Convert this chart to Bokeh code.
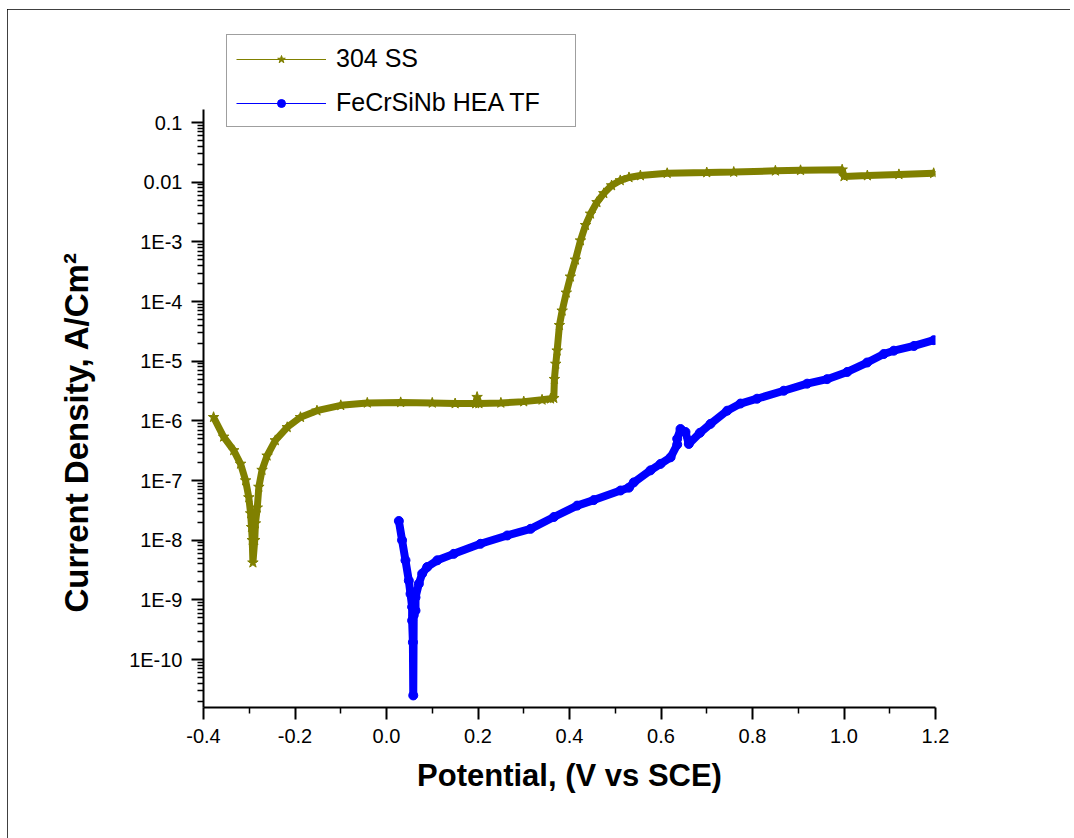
from bokeh.plotting import figure
from bokeh.models import (Range1d, FixedTicker, CustomJSTickFormatter, Legend,
                          LegendItem, Title)
from bokeh.embed import file_html
from bokeh.resources import INLINE

# ---- data ----
ss_potential = [-0.378, -0.356, -0.334, -0.319, -0.308, -0.301, -0.297, -0.295,
                -0.2935, -0.292, -0.288, -0.2865, -0.2825, -0.279, -0.272, -0.261,
                -0.243, -0.217, -0.188, -0.152, -0.100, -0.042, 0.031, 0.100,
                0.150, 0.195, 0.198, 0.202, 0.250, 0.300, 0.340, 0.3585, 0.3657,
                0.367, 0.370, 0.373, 0.378, 0.384, 0.393, 0.402, 0.413, 0.424,
                0.435, 0.446, 0.460, 0.475, 0.492, 0.511, 0.530, 0.555, 0.6135,
                0.700, 0.759, 0.850, 0.905, 0.996, 1.000, 1.051, 1.120, 1.196]
ss_current = [1.15e-6, 5.4e-7, 3.2e-7, 1.9e-7, 1.0e-7, 5.2e-8, 2.8e-8, 1.65e-8,
              1.0e-8, 4.2e-9, 1.0e-8, 1.9e-8, 3.5e-8, 7.8e-8, 1.5e-7, 2.6e-7,
              4.7e-7, 7.8e-7, 1.15e-6, 1.48e-6, 1.82e-6, 2.0e-6, 2.04e-6, 2.0e-6,
              1.95e-6, 1.95e-6, 2.5e-6, 1.95e-6, 2.0e-6, 2.1e-6, 2.25e-6, 2.35e-6, 2.4e-6,
              5.0e-6, 9.0e-6, 1.5e-5, 4.0e-5, 7.0e-5, 1.4e-4, 2.6e-4, 5.0e-4, 1.05e-3,
              1.9e-3, 2.95e-3, 4.6e-3, 6.5e-3, 8.8e-3, 1.07e-2, 1.2e-2, 1.29e-2, 1.41e-2,
              1.45e-2, 1.48e-2, 1.55e-2, 1.58e-2, 1.62e-2, 1.25e-2, 1.29e-2, 1.35e-2, 1.41e-2]

hea_potential = [0.027, 0.034, 0.0415, 0.0488, 0.0525, 0.056, 0.056, 0.0577, 0.0585,
                 0.0595, 0.0634, 0.0634, 0.0707, 0.078, 0.089, 0.111, 0.147, 0.2055,
                 0.264, 0.315, 0.366, 0.4168, 0.453, 0.5115, 0.530, 0.5405, 0.577,
                 0.599, 0.621, 0.6354, 0.6354, 0.6426, 0.6535, 0.6608, 0.685, 0.7082,
                 0.7447, 0.7738, 0.810, 0.8684, 0.9195, 0.963, 1.007, 1.0507, 1.087,
                 1.1089, 1.153, 1.1963]
hea_current = [2.1e-8, 1.0e-8, 4.6e-9, 2.1e-9, 1.26e-9, 7.6e-10, 4.5e-10, 1.95e-10, 2.5e-11,
               5.5e-10, 6.6e-10, 1.1e-9, 1.86e-9, 2.75e-9, 3.55e-9, 4.6e-9, 5.9e-9, 8.7e-9,
               1.2e-8, 1.55e-8, 2.45e-8, 3.8e-8, 4.7e-8, 6.8e-8, 7.6e-8, 9.3e-8, 1.48e-7,
               1.9e-7, 2.45e-7, 4.0e-7, 5.0e-7, 7.3e-7, 6.5e-7, 4.1e-7, 6.3e-7, 8.9e-7,
               1.48e-6, 1.95e-6, 2.35e-6, 3.2e-6, 4.2e-6, 5.0e-6, 6.6e-6, 9.5e-6, 1.32e-5,
               1.5e-5, 1.8e-5, 2.25e-5]

x_major_ticks = [-0.4, -0.2, 0.0, 0.2, 0.4, 0.6, 0.8, 1.0, 1.2]
x_minor_ticks = [-0.3, -0.1, 0.1, 0.3, 0.5, 0.7, 0.9, 1.1]
y_major_ticks = [1e-10, 1e-9, 1e-8, 1e-7, 1e-6, 1e-5, 1e-4, 1e-3, 1e-2, 1e-1]

Y_AXIS_MIN = 10 ** -10.804
Y_AXIS_MAX = 10 ** -0.782      # where the drawn y axis ends
Y_VIEW_MAX = 10 ** 0.542       # room above the axis for the legend box
y_minor_ticks = [k * 10.0 ** d for d in range(-11, 0) for k in range(2, 10)
                 if Y_AXIS_MIN <= k * 10.0 ** d <= Y_AXIS_MAX]

OLIVE = "#808000"
BLUE = "#0000FF"
FONT = "Liberation Sans"

p = figure(width=1063, height=829,
           x_range=Range1d(-0.4, 1.2),
           y_range=Range1d(Y_AXIS_MIN, Y_VIEW_MAX),
           y_axis_type="log",
           output_backend="svg", toolbar_location=None,
           min_border_left=196, min_border_right=135,
           min_border_top=21, min_border_bottom=131,
           margin=(9, 0, 0, 7))
p.styles = {"outline": "2px solid black", "outline-offset": "-2px"}
p.outline_line_color = None
p.grid.visible = False
p.background_fill_color = "white"
p.border_fill_color = "white"

# series
ss_band = p.line(ss_potential, ss_current, line_width=7, color=OLIVE)
ss_line = p.line(ss_potential, ss_current, line_width=1.2, color=OLIVE)
ss_pts = p.scatter(ss_potential, ss_current, marker="star", size=11,
                   color=OLIVE)
hea_band = p.line(hea_potential, hea_current, line_width=8, color=BLUE)
hea_line = p.line(hea_potential, hea_current, line_width=1.2, color=BLUE)
hea_pts = p.scatter(hea_potential, hea_current, marker="circle", size=9,
                    color=BLUE)

# axes
xa = p.xaxis[0]
ya = p.yaxis[0]
xa.ticker = FixedTicker(ticks=x_major_ticks, minor_ticks=x_minor_ticks)
xa.formatter = CustomJSTickFormatter(code="return tick.toFixed(1);")
ya.ticker = FixedTicker(ticks=y_major_ticks, minor_ticks=y_minor_ticks)
ya.formatter = CustomJSTickFormatter(code="""
if (tick >= 0.005) { return tick.toString(); }
return '1E' + Math.round(Math.log10(tick));
""")
ya.bounds = (Y_AXIS_MIN, Y_AXIS_MAX)
xa.axis_label = "Potential, (V vs SCE)"
for ax in (xa, ya):
    ax.axis_line_width = 2
    ax.axis_line_color = "black"
    ax.major_tick_line_width = 2
    ax.minor_tick_line_width = 1.5
    ax.major_tick_line_color = "black"
    ax.minor_tick_line_color = "black"
    ax.major_tick_out = 12
    ax.major_tick_in = 0
    ax.minor_tick_out = 6
    ax.minor_tick_in = 0
    ax.major_label_text_font = FONT
    ax.major_label_text_font_size = "20px"
    ax.major_label_text_color = "black"
    ax.axis_label_text_font = FONT
    ax.axis_label_text_font_style = "bold"
    ax.axis_label_text_color = "black"
xa.axis_label_text_font_size = "31px"
xa.major_label_standoff = 9
ya.major_label_standoff = 9
xa.axis_label_standoff = 12

# y axis title, placed along the drawn axis
ytitle = Title(text="Current Density, A/Cm\u00b2", align="left",
               offset=95, standoff=64, text_font=FONT,
               text_font_style="bold", text_font_size="33px",
               text_color="black")
p.add_layout(ytitle, "left")

legend = Legend(items=[LegendItem(label="304 SS", renderers=[ss_line, ss_pts]),
                       LegendItem(label="FeCrSiNb HEA TF", renderers=[hea_line, hea_pts])],
                location=(23, 580), glyph_width=90, glyph_height=20,
                label_height=26, label_width=230, spacing=15, padding=9,
                label_standoff=10, border_line_color="#404040",
                border_line_width=1.5, label_text_font=FONT,
                label_text_font_size="25px", label_text_color="black",
                background_fill_color="white", background_fill_alpha=1.0)
p.add_layout(legend)

open("out.html", "w").write(file_html(p, INLINE))
